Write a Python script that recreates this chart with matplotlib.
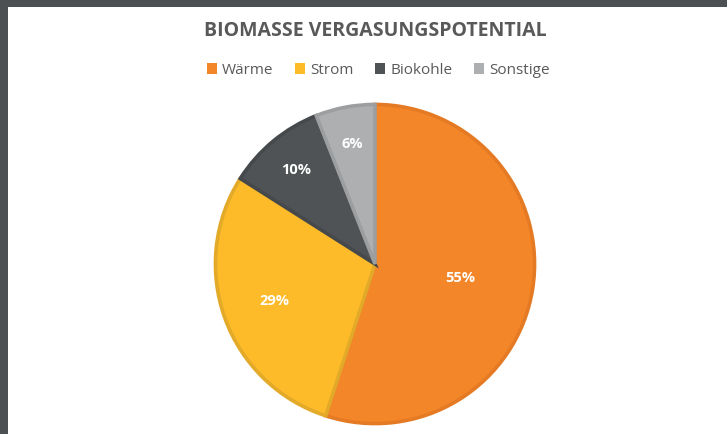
import numpy as np
import matplotlib.pyplot as plt
from matplotlib.patches import Patch, Rectangle

labels = ['Wärme', 'Strom', 'Biokohle', 'Sonstige']
shares = [55, 29, 10, 6]
fill_colors = ['#f4862a', '#fdbb2a', '#4f5355', '#adafb1']
edge_colors = ['#e57a24', '#e3a928', '#45494b', '#9c9ea0']
label_dist = [0.53, 0.66, 0.76, 0.76]

fig = plt.figure(figsize=(7.27, 4.35), dpi=100)
fig.patch.set_facecolor('#4d5053')
# white chart area inside the dark frame
fig.add_artist(Rectangle((8 / 727, 0), 1, (435 - 8) / 435, transform=fig.transFigure,
                         facecolor='white', edgecolor='none', zorder=0))

ax = fig.add_axes([213 / 727, 8 / 435, 324 / 727, 324 / 435])
wedges, _ = ax.pie(shares, colors=fill_colors, startangle=90, counterclock=False,
                   radius=0.985, wedgeprops=dict(linewidth=2.6))
for w, ec in zip(wedges, edge_colors):
    w.set_edgecolor(ec)

for w, s, d in zip(wedges, shares, label_dist):
    mid = np.deg2rad((w.theta1 + w.theta2) / 2)
    ax.text(d * np.cos(mid), d * np.sin(mid), f'{s}%', ha='center', va='center',
            color='white', fontsize=10.5, fontweight='bold', family='Open Sans')
ax.set_xlim(-1, 1)
ax.set_ylim(-1, 1)
ax.axis('off')

fig.text(375 / 727, 1 - 31 / 435, 'BIOMASSE VERGASUNGSPOTENTIAL', ha='center', va='center',
         fontsize=14, fontweight='bold', color='#595959', family='Open Sans')

handles = [Patch(facecolor=c, edgecolor='none') for c in fill_colors]
fig.legend(handles, labels, loc='center', bbox_to_anchor=(378 / 727, 1 - 71 / 435), ncol=4,
           frameon=False, handlelength=0.7, handleheight=0.7, handletextpad=0.3,
           columnspacing=1.4, prop=dict(family='Open Sans', size=11), labelcolor='#595959')

fig.savefig('out.png', dpi=100, facecolor=fig.get_facecolor())
